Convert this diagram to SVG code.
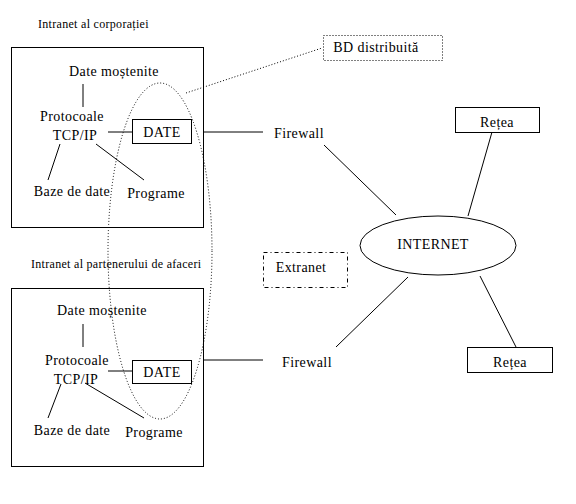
<svg xmlns="http://www.w3.org/2000/svg" width="576" height="504" viewBox="0 0 576 504">
<style>
text{font-family:"Liberation Serif","Times New Roman",serif;font-size:14px;fill:#000;letter-spacing:0.4px}
.sm{font-size:12px;letter-spacing:0.3px}
.mid{text-anchor:middle}
.box{fill:none;stroke:#000;stroke-width:1}
.ln{stroke:#000;stroke-width:1;fill:none}
.dot{stroke:#000;stroke-width:1;fill:none;stroke-dasharray:1 2}
</style>
<rect width="576" height="504" fill="#fff"/>
<g id="connectors">
<line class="ln" x1="83" y1="84" x2="83" y2="107"/>
<line class="ln" x1="108" y1="132" x2="132" y2="132"/>
<line class="ln" x1="60" y1="144" x2="48" y2="180"/>
<line class="ln" x1="96" y1="144" x2="144" y2="180"/>
<line class="ln" x1="204" y1="132" x2="263" y2="132"/>
<line class="ln" x1="324" y1="145" x2="396" y2="215"/>
<line class="ln" x1="492" y1="132" x2="468" y2="216"/>
<line class="ln" x1="408" y1="277" x2="336" y2="347"/>
<line class="ln" x1="480" y1="276" x2="516" y2="347"/>
<line class="ln" x1="83" y1="324" x2="83" y2="347"/>
<line class="ln" x1="108" y1="371" x2="132" y2="371"/>
<line class="ln" x1="61" y1="384" x2="48" y2="418"/>
<line class="ln" x1="85" y1="383" x2="144" y2="418"/>
<line class="ln" x1="204" y1="360" x2="263" y2="360"/>
<line class="dot" x1="186" y1="93" x2="322" y2="48"/>
</g>
<g id="corp">
<text class="sm" x="38" y="28">Intranet al corporației</text>
<rect class="box" x="11.5" y="47.5" width="192" height="180"/>
</g>
<g id="corp-date-mostenite"><text class="mid" x="114" y="76">Date moștenite</text></g>
<g id="corp-tcpip"><text class="mid" x="72" y="121">Protocoale</text><text class="mid" x="75" y="140">TCP/IP</text></g>
<g id="corp-date"><rect class="box" x="132.5" y="119.5" width="59" height="24"/><text class="mid" x="162" y="137">DATE</text></g>
<g id="corp-baze"><text class="mid" x="72" y="196">Baze de date</text></g>
<g id="corp-programe"><text class="mid" x="156" y="198">Programe</text></g>
<g id="partner">
<text class="sm" x="31" y="268">Intranet al partenerului de afaceri</text>
<rect class="box" x="11.5" y="288.5" width="192" height="178"/>
</g>
<g id="partner-date-mostenite"><text class="mid" x="102" y="315">Date moștenite</text></g>
<g id="partner-tcpip"><text class="mid" x="77" y="365">Protocoale</text><text class="mid" x="76" y="384">TCP/IP</text></g>
<g id="partner-date"><rect class="box" x="132.5" y="360.5" width="59" height="23"/><text class="mid" x="162" y="377">DATE</text></g>
<g id="partner-baze"><text class="mid" x="72" y="435">Baze de date</text></g>
<g id="partner-programe"><text class="mid" x="154" y="437">Programe</text></g>
<g id="distributed">
<ellipse class="dot" cx="160" cy="251" rx="52" ry="168"/>
</g>
<g id="bd"><rect class="dot" x="323.5" y="35.5" width="119" height="25"/><text class="mid" x="376" y="52">BD distribuită</text></g>
<g id="firewall1"><text class="mid" x="299" y="138">Firewall</text></g>
<g id="firewall2"><text class="mid" x="307" y="367">Firewall</text></g>
<g id="internet"><ellipse class="box" cx="438" cy="245.5" rx="78" ry="29.5"/><text class="mid" x="433" y="249">INTERNET</text></g>
<g id="retea1"><rect class="box" x="455.5" y="107.5" width="84" height="25"/><text class="mid" x="497" y="127">Rețea</text></g>
<g id="retea2"><rect class="box" x="467.5" y="347.5" width="85" height="25"/><text class="mid" x="510" y="367">Rețea</text></g>
<g id="extranet"><rect class="box" x="263.5" y="252.5" width="84" height="35" stroke-dasharray="4 3 1 3"/><text class="mid" x="301" y="272">Extranet</text></g>
</svg>
